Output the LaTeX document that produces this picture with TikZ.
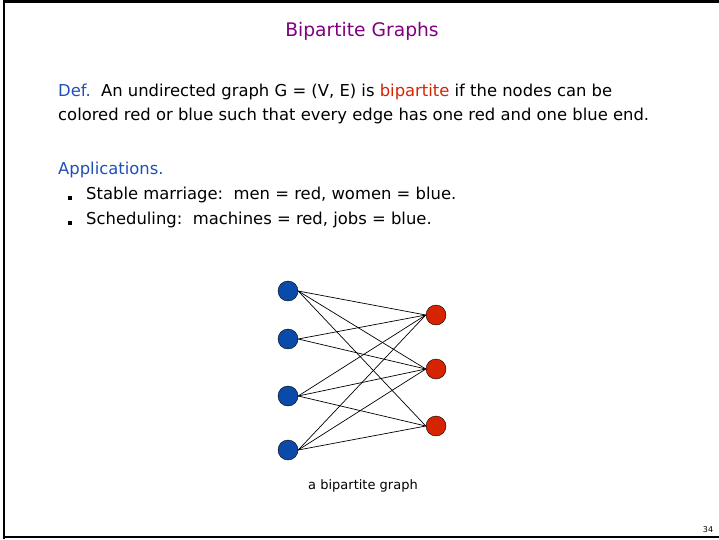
\documentclass[tikz,border=0pt]{standalone}
\usepackage{fontspec}
\setmainfont{DejaVu Sans}
\usetikzlibrary{positioning}
\definecolor{titlecol}{HTML}{800080}
\definecolor{defcol}{HTML}{1F4FB8}
\definecolor{redend}{HTML}{D62400}
\definecolor{blueend}{HTML}{0A4AA8}
\begin{document}
\begin{tikzpicture}[x=1pt, y=1pt,
      line/.style={font=\fontsize{16.4}{18}\selectfont, anchor=mid west, inner sep=0pt},
      bul/.style={fill=black, minimum size=4pt, inner sep=0pt},
      leftv/.style={circle, draw=black, fill=blueend, minimum size=20pt, inner sep=0pt},
      rightv/.style={circle, draw=black, fill=redend, minimum size=20pt, inner sep=0pt},
      edge/.style={black, line width=0.7pt}
    ]
      \useasboundingbox (0,0) rectangle (719,-539);
      % Slide frame
      \draw[line width=2.5pt] (4,-539) -- (4,-1.5) -- (719,-1.5);
      \draw[line width=2.5pt] (4,-537) -- (719,-537);

      % Title
      \node[font=\fontsize{18.7}{21}\selectfont, text=titlecol] (title) at (362,-31) {Bipartite Graphs};

      % Definition
      \node[line] (def1) at (58,-94) {\textcolor{defcol}{Def.}\ \ An undirected graph G = (V, E) is \textcolor{redend}{bipartite} if the nodes can be};
      \node[line] (def2) at (58,-118) {colored red or blue such that every edge has one red and one blue end.};

      % Applications
      \node[line, text=defcol] (app) at (58,-172) {Applications.};
      \node[bul] (b1) at (70,-198) {};
      \node[line] (app1) at (86,-197) {Stable marriage:\ \ men = red, women = blue.};
      \node[bul] (b2) at (70,-223) {};
      \node[line] (app2) at (86,-222) {Scheduling:\ \ machines = red, jobs = blue.};

      % Graph: left side blue, right side red
      \node[leftv] (l1) at (288,-291) {};
      \node[leftv] (l2) at (288,-339) {};
      \node[leftv] (l3) at (288,-396) {};
      \node[leftv] (l4) at (288,-450) {};
      \node[rightv] (r1) at (436,-315) {};
      \node[rightv] (r2) at (436,-369) {};
      \node[rightv] (r3) at (436,-426) {};

      \foreach \a/\b in {l1/r1, l1/r2, l1/r3, l2/r1, l2/r2, l3/r1, l3/r2, l3/r3, l4/r1, l4/r2, l4/r3}
        \draw[edge] (\a.east) -- (\b.west);

      \node[font=\fontsize{13}{15}\selectfont] (cap) at (363,-486) {a bipartite graph};

      % Page number
      \node[font=\fontsize{8}{9}\selectfont] (page) at (708,-530) {34};
    \end{tikzpicture}
\end{document}
